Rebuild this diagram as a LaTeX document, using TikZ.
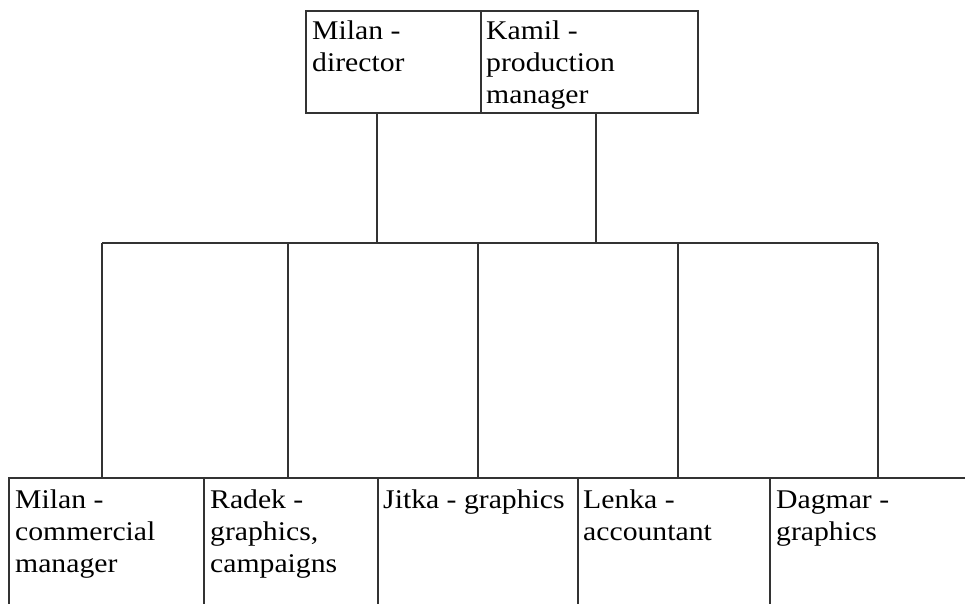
\documentclass[tikz,border=0pt]{standalone}
\usepackage{fontspec}
\setmainfont{Liberation Serif}[FakeStretch=1.1]
\begin{document}
\begin{tikzpicture}[x=1pt,y=-1pt,
  box/.style={draw=black!80, line width=1.8pt, inner sep=0pt, anchor=north west},
  conn/.style={draw=black!80, line width=1.8pt},
  lbl/.style={anchor=base west, inner sep=0pt, font=\fontsize{27}{32}\selectfont}]
\clip (0,0) rectangle (965,603);
\fill[white] (0,0) rectangle (965,603);
% top boxes
\node[box, minimum width=175pt, minimum height=102pt] (m) at (305,10) {};
\node[box, minimum width=217pt, minimum height=102pt] (k) at (480,10) {};
% bottom boxes (open below the picture edge)
\node[box, minimum width=195pt, minimum height=160pt] (b1) at (8,477) {};
\node[box, minimum width=174pt, minimum height=160pt] (b2) at (203,477) {};
\node[box, minimum width=200pt, minimum height=160pt] (b3) at (377,477) {};
\node[box, minimum width=192pt, minimum height=160pt] (b4) at (577,477) {};
\node[box, minimum width=220pt, minimum height=160pt] (b5) at (769,477) {};
% bus coordinates
\coordinate (j1) at (377,243);
\coordinate (j2) at (596,243);
\coordinate (d1) at (102,243);
\coordinate (d2) at (288,243);
\coordinate (d3) at (478,243);
\coordinate (d4) at (678,243);
\coordinate (d5) at (878,243);
% connectors
\draw[conn] (m.south -| j1) -- (j1);
\draw[conn] (k.south -| j2) -- (j2);
\draw[conn] (d1) -- (d5);
\draw[conn] (d1) -- (d1 |- b1.north);
\draw[conn] (d2) -- (d2 |- b2.north);
\draw[conn] (d3) -- (d3 |- b3.north);
\draw[conn] (d4) -- (d4 |- b4.north);
\draw[conn] (d5) -- (d5 |- b5.north);
% labels
\node[lbl] (tm) at (312,39) {\parbox[t]{165pt}{Milan -\\director}};
\node[lbl] (tk) at (486,39) {\parbox[t]{205pt}{Kamil -\\production\\manager}};
\node[lbl] (t1) at (15,508) {\parbox[t]{185pt}{Milan -\\commercial\\manager}};
\node[lbl] (t2) at (210,508) {\parbox[t]{165pt}{Radek -\\graphics,\\campaigns}};
\node[lbl] (t3) at (383,508) {\parbox[t]{190pt}{Jitka - graphics}};
\node[lbl] (t4) at (583,508) {\parbox[t]{180pt}{Lenka -\\accountant}};
\node[lbl] (t5) at (776,508) {\parbox[t]{180pt}{Dagmar -\\graphics}};
\end{tikzpicture}
\end{document}
